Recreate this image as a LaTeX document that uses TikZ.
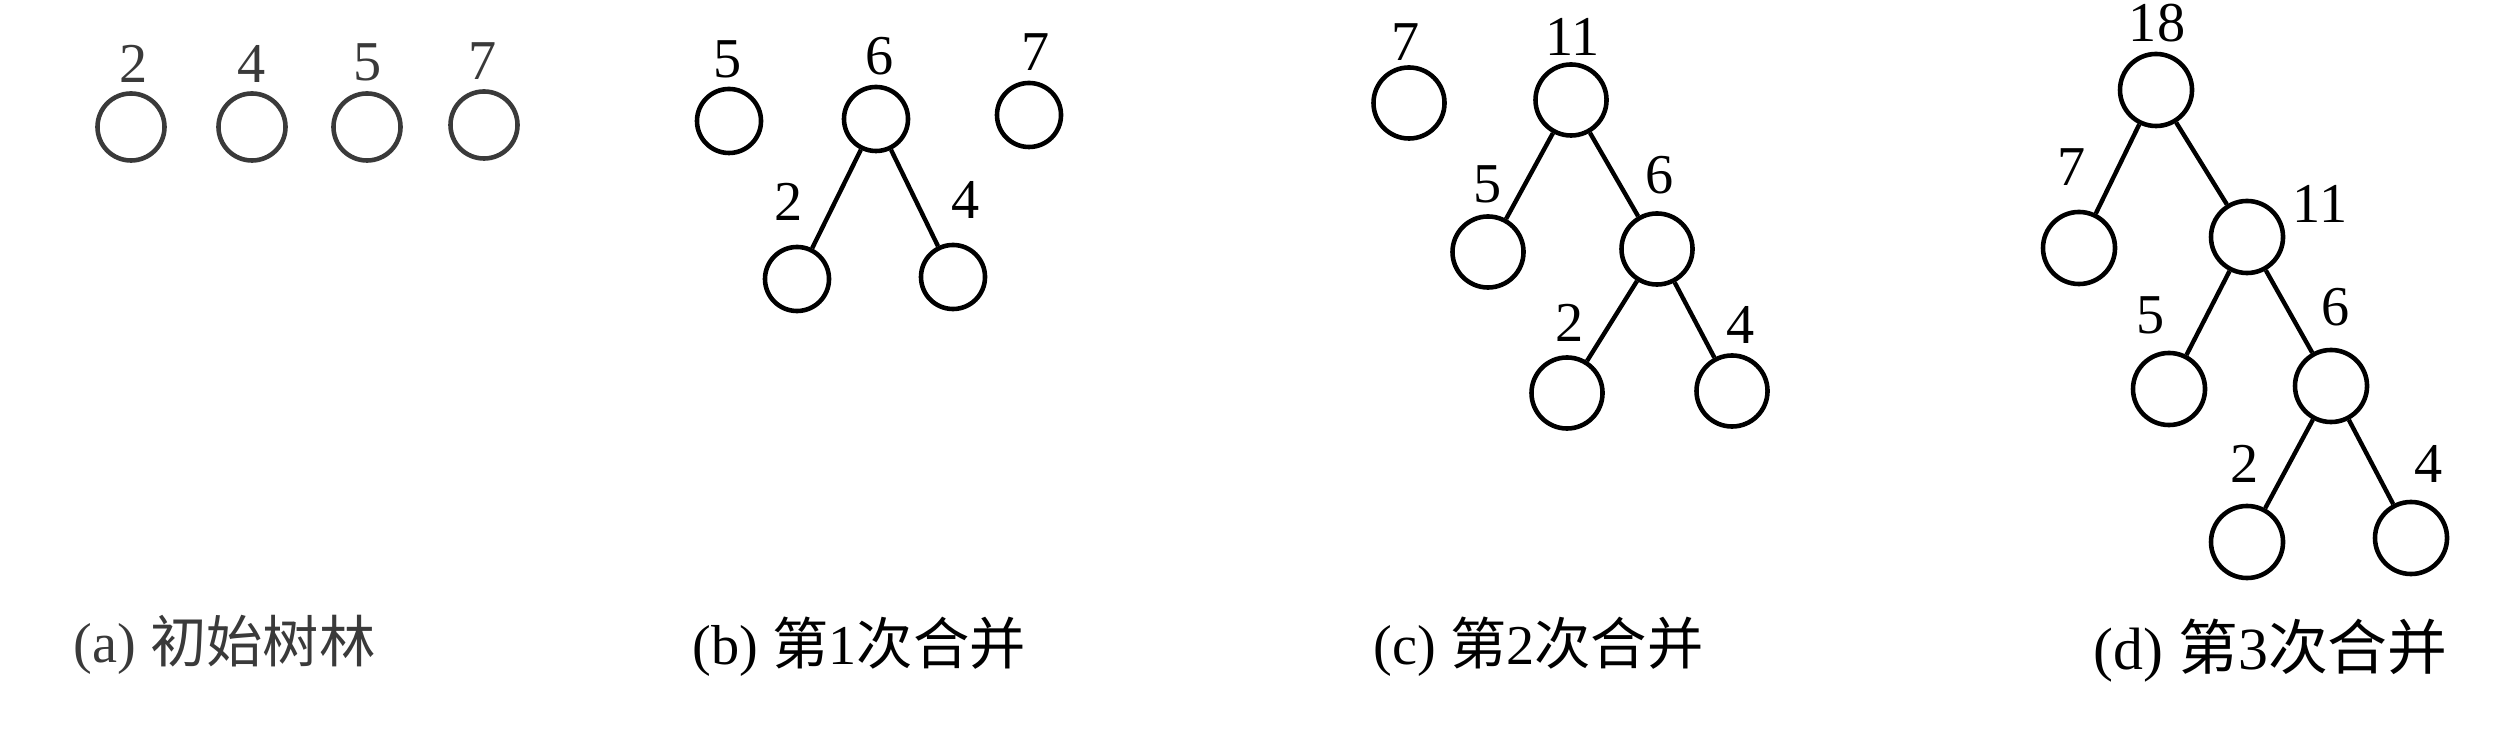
\documentclass[tikz,border=0pt]{standalone}
\usepackage{fontspec}
\setmainfont{Liberation Serif}
\newfontfamily\cjk{Noto Sans CJK SC}
\definecolor{pale}{HTML}{3A3A3A}
\tikzset{
  nd/.style={circle, draw, line width=1.3pt, inner sep=0pt, minimum size=#1},
  edge/.style={line width=1.25pt},
  lbl/.style={inner sep=0pt, font=\fontsize{16}{16}\selectfont},
  captxt/.style={inner sep=0pt, anchor=base west, font=\fontsize{16}{19}\selectfont},
}
\begin{document}
\begin{tikzpicture}[x=0.01cm, y=-0.01cm]
\fill[white] (0,0) rectangle (2504,734);
\useasboundingbox (0,0) rectangle (2504,734);

% (a)
\begin{scope}[every node/.append style={draw=pale, text=pale}]
\node[nd=0.67cm] (a2) at (131,127) {};
\node[nd=0.67cm] (a4) at (252,127) {};
\node[nd=0.67cm] (a5) at (367,127) {};
\node[nd=0.67cm] (a7) at (484,125) {};
\end{scope}
\node[lbl, text=pale] (la2) at (134,64) {2};
\node[lbl, text=pale] (la4) at (252,64) {4};
\node[lbl, text=pale] (la5) at (368,62) {5};
\node[lbl, text=pale] (la7) at (483,61) {7};

% (b)
\node[nd=0.64cm] (b5) at (729,121) {};
\node[nd=0.64cm] (b6) at (876,119) {};
\node[nd=0.64cm] (b7) at (1029,115) {};
\node[nd=0.64cm] (b2) at (797,279) {};
\node[nd=0.64cm] (b4) at (953,277) {};
\node[lbl] (lb5) at (728,59) {5};
\node[lbl] (lb6) at (880,56) {6};
\node[lbl] (lb7) at (1036,52) {7};
\node[lbl] (lb2) at (789,202) {2};
\node[lbl] (lb4) at (966,200) {4};
\draw[edge] (b6) -- (b2);
\draw[edge] (b6) -- (b4);

% (c)
\node[nd=0.71cm] (c7) at (1409,103) {};
\node[nd=0.71cm] (c11) at (1571,100) {};
\node[nd=0.71cm] (c5) at (1488,252) {};
\node[nd=0.71cm] (c6) at (1657,249) {};
\node[nd=0.71cm] (c2) at (1567,393) {};
\node[nd=0.71cm] (c4) at (1732,391) {};
\node[lbl] (lc7) at (1406,42) {7};
\node[lbl] (lc11) at (1573,37) {11};
\node[lbl] (lc5) at (1488,184) {5};
\node[lbl] (lc6) at (1660,175) {6};
\node[lbl] (lc2) at (1570,323) {2};
\node[lbl] (lc4) at (1741,325) {4};
\draw[edge] (c11) -- (c5);
\draw[edge] (c11) -- (c6);
\draw[edge] (c6) -- (c2);
\draw[edge] (c6) -- (c4);

% (d)
\node[nd=0.72cm] (d18) at (2156,90) {};
\node[nd=0.72cm] (d7) at (2079,248) {};
\node[nd=0.72cm] (d11) at (2247,237) {};
\node[nd=0.72cm] (d5) at (2169,389) {};
\node[nd=0.72cm] (d6) at (2331,386) {};
\node[nd=0.72cm] (d2) at (2247,542) {};
\node[nd=0.72cm] (d4) at (2411,538) {};
\node[lbl] (ld18) at (2157,23) {18};
\node[lbl] (ld7) at (2072,167) {7};
\node[lbl] (ld11) at (2320,204) {11};
\node[lbl] (ld5) at (2151,315) {5};
\node[lbl] (ld6) at (2336,307) {6};
\node[lbl] (ld2) at (2245,464) {2};
\node[lbl] (ld4) at (2429,464) {4};
\draw[edge] (d18) -- (d7);
\draw[edge] (d18) -- (d11);
\draw[edge] (d11) -- (d5);
\draw[edge] (d11) -- (d6);
\draw[edge] (d6) -- (d2);
\draw[edge] (d6) -- (d4);

% captions
\node[captxt, text=pale] (capa) at (73,662) {(a) {\cjk 初始树林}};
\node[captxt] (capb) at (692,664) {(b) {\cjk 第}1{\cjk 次合并}};
\node[captxt] (capc) at (1373,664) {(c) {\cjk 第}2{\cjk 次合并}};
\node[captxt, font=\fontsize{17}{20}\selectfont] (capd) at (2093,669) {(d) {\cjk 第}3{\cjk 次合并}};
\end{tikzpicture}
\end{document}
